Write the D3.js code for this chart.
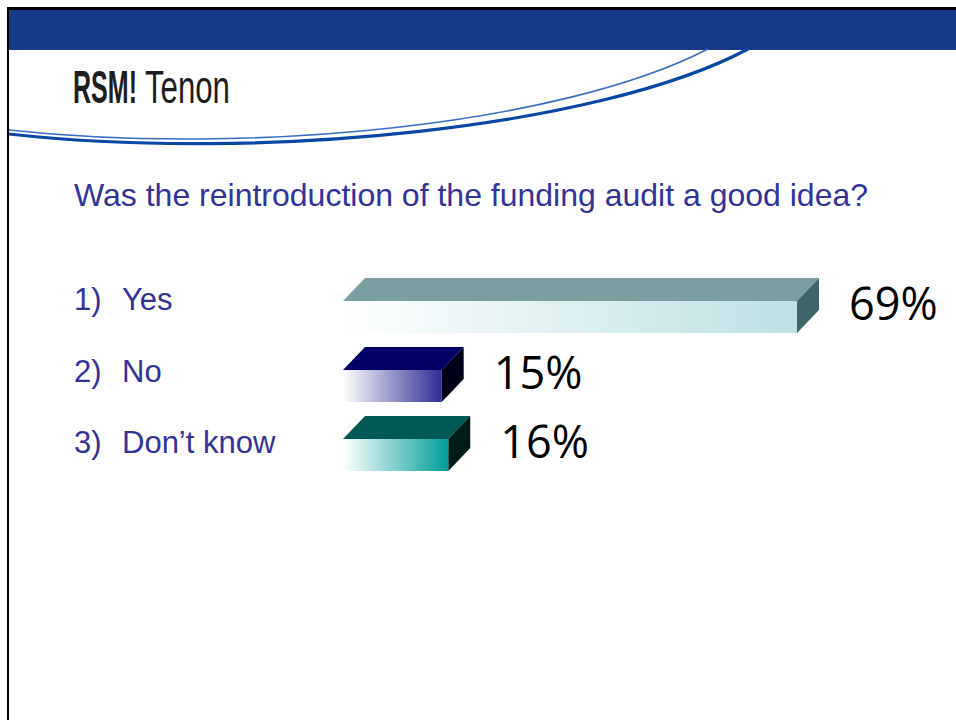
<!DOCTYPE html>
<html>
<head>
<meta charset="utf-8">
<script src="https://cdn.jsdelivr.net/npm/d3@7"></script>
<style>
  html, body { margin: 0; padding: 0; background: #fff; }
  svg { display: block; }
</style>
</head>
<body>
<div id="chart"></div>
<script>
// poll data
const numbers = ["1)", "2)", "3)"]
const categories = ["Yes", "No", "Don\u2019t know"]
const values = [69, 15, 16]
const valueLabels = ["69%", "15%", "16%"]
const title = "Was the reintroduction of the funding audit a good idea?"

// face colours per bar: top, side, gradient end of the front
const topColors = ["#7b9fa0", "#000066", "#005955"]
const sideColors = ["#3e6567", "#000018", "#001c19"]
const frontColors = ["#bde0e3", "#2e2e94", "#009e98"]

const width = 956, height = 720
const barH = 32, depthX = 22, depthY = 23
const textColor = "#333399"

const svg = d3.select("#chart").append("svg")
    .attr("width", width)
    .attr("height", height)

// --- slide frame ---
svg.append("rect")
    .attr("x", 7).attr("y", 7)
    .attr("width", width - 7).attr("height", 3)
    .attr("fill", "#000")
svg.append("rect")
    .attr("x", 7).attr("y", 7)
    .attr("width", 2).attr("height", height - 7)
    .attr("fill", "#000")
svg.append("rect")
    .attr("x", 9).attr("y", 10)
    .attr("width", width - 9).attr("height", 40)
    .attr("fill", "#163a87")

// swoosh lines under the header
svg.append("path")
    .attr("d", "M9,130 C250,156 560,125 708,49")
    .attr("fill", "none")
    .attr("stroke", "#3b6fc4")
    .attr("stroke-width", 1.6)
svg.append("path")
    .attr("d", "M9,134 C260,162 600,128 748,49")
    .attr("fill", "none")
    .attr("stroke", "#0a48a6")
    .attr("stroke-width", 3.2)

// logo, squeezed to the width of the original wordmark
const logoFont = "'Liberation Sans Narrow', 'Liberation Sans', Arial, sans-serif"
const addLogoPart = (txt, x0, w, weight) => {
    const t = svg.append("text")
        .style("font-family", logoFont)
        .style("font-size", "47px")
        .style("font-weight", weight)
        .attr("fill", "#1e1e1e")
        .text(txt)
    const natural = t.node().getComputedTextLength()
    t.attr("transform", `translate(${x0},103) scale(${w / natural},1)`)
}
addLogoPart("RSM!", 73, 64, "bold")
addLogoPart("Tenon", 145, 85, "normal")

// title
svg.append("text")
    .attr("x", 74).attr("y", 206)
    .style("font-family", "'Liberation Sans', Arial, sans-serif")
    .style("font-size", "32px")
    .attr("fill", textColor)
    .text(title)

// scales
const x = d3.scaleLinear().domain([0, 100]).range([343, 343 + 658])
const y = d3.scalePoint().domain(categories).range([301, 439])
const yLabel = d3.scalePoint().domain(categories).range([310, 453])

const data = categories.map((c, i) => ({
    num: numbers[i], cat: c, value: values[i], label: valueLabels[i],
    top: topColors[i], side: sideColors[i], front: frontColors[i], i: i
}))

const defs = svg.append("defs")
data.forEach(d => {
    const grad = defs.append("linearGradient")
        .attr("id", "front-" + d.i)
        .attr("x1", "0%").attr("x2", "100%")
        .attr("y1", "0%").attr("y2", "0%")
    grad.append("stop").attr("offset", "0%").attr("stop-color", "#ffffff")
    grad.append("stop").attr("offset", "100%").attr("stop-color", d.front)
})

const bars = svg.append("g").selectAll("g.bar")
    .data(data)
    .join("g")
    .attr("class", "bar")

// top face
bars.append("path")
    .attr("fill", d => d.top)
    .attr("d", d => {
        const x0 = x(0), x1 = x(d.value), y0 = y(d.cat)
        return `M${x0},${y0} L${x0 + depthX},${y0 - depthY} L${x1 + depthX},${y0 - depthY} L${x1},${y0} Z`
    })

// side face
bars.append("path")
    .attr("fill", d => d.side)
    .attr("d", d => {
        const x1 = x(d.value), y0 = y(d.cat)
        return `M${x1},${y0} L${x1 + depthX},${y0 - depthY} L${x1 + depthX},${y0 - depthY + barH} L${x1},${y0 + barH} Z`
    })

// front face
bars.append("rect")
    .attr("x", x(0))
    .attr("y", d => y(d.cat))
    .attr("width", d => x(d.value) - x(0))
    .attr("height", barH)
    .attr("fill", d => `url(#front-${d.i})`)

// value labels
bars.append("text")
    .attr("x", d => x(d.value) + depthX + 30)
    .attr("y", d => y(d.cat) + 19)
    .style("font-family", "'Open Sans', 'DejaVu Sans', sans-serif")
    .style("font-size", "45px")
    .attr("fill", "#000")
    .text(d => d.label)

// category labels
const labels = svg.append("g").selectAll("text")
    .data(data)
    .join("text")
    .attr("y", d => yLabel(d.cat))
    .style("font-family", "'Liberation Sans', Arial, sans-serif")
    .style("font-size", "31px")
    .attr("fill", textColor)
labels.append("tspan").attr("x", 74).text(d => d.num)
labels.append("tspan").attr("x", 122).text(d => d.cat)
</script>
</body>
</html>
